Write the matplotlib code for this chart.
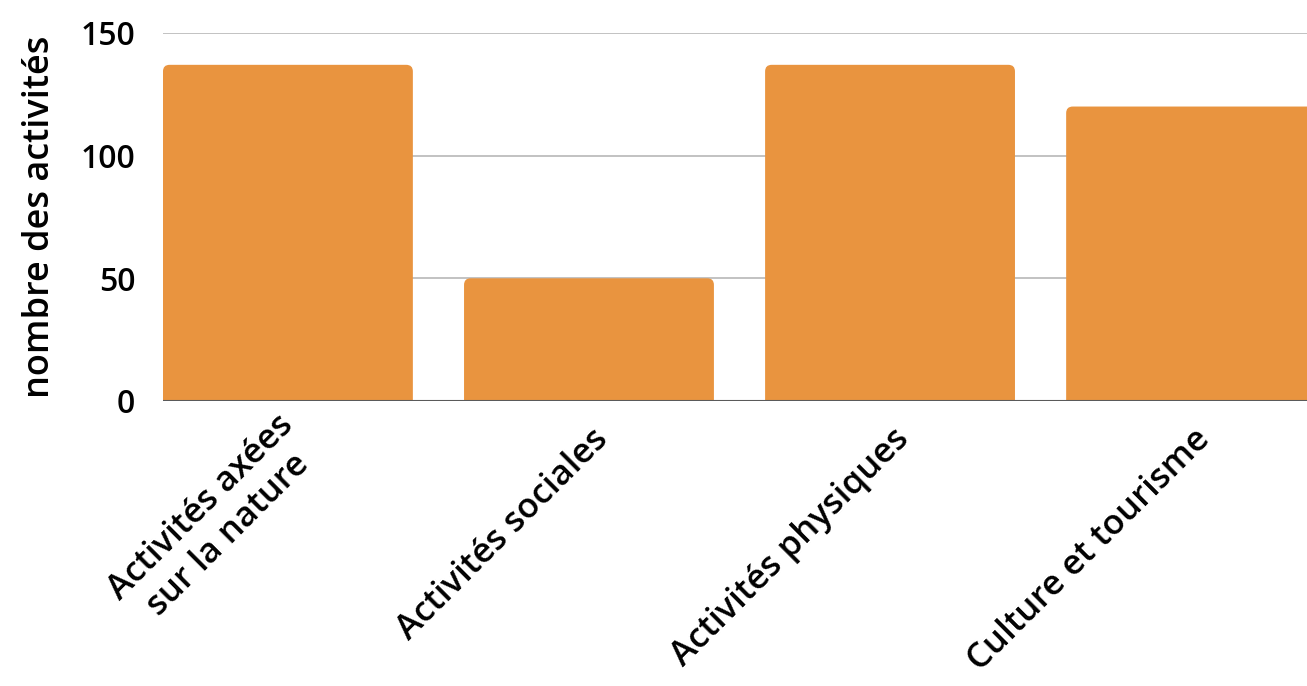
import numpy as np
import matplotlib.pyplot as plt
from matplotlib.patches import FancyBboxPatch
from matplotlib.transforms import ScaledTranslation

# data
categories = ["Activités axées\nsur la nature", "Activités sociales",
              "Activités physiques", "Culture et tourisme"]
values = [137, 50, 137, 120]
y_ticks = [0, 50, 100, 150]

bar_color = "#E9943F"
plt.rcParams['font.family'] = ['Open Sans', 'DejaVu Sans']

fig = plt.figure(figsize=(13.07, 6.86), dpi=100)
ax = fig.add_axes([0.1247, 0.4155, 0.8753, 0.5365])

x = np.arange(len(categories))
bars = ax.bar(x, values, width=0.83, color=bar_color, zorder=2)

# swap plain rectangles for ones with slightly rounded corners
# (start a bit below zero so the lower corners are clipped away)
for b in bars:
    b.set_visible(False)
    rb = FancyBboxPatch((b.get_x(), -5), b.get_width(), b.get_height() + 5,
                        boxstyle="round,pad=0,rounding_size=0.022",
                        mutation_aspect=122, facecolor=bar_color,
                        edgecolor="none", zorder=2)
    ax.add_patch(rb)

ax.set_xlim(-0.415, 3.385)
ax.set_ylim(0, 150)
ax.set_yticks(y_ticks)
ax.yaxis.grid(True, color="#BDBDBD", linewidth=1.3, zorder=0)
ax.axhline(0, color="#5A5A5A", linewidth=1.5, zorder=3)

for s in ax.spines.values():
    s.set_visible(False)

ax.tick_params(axis='y', length=0, pad=20, labelsize=23)
ax.tick_params(axis='x', length=0)
for lbl in ax.get_yticklabels():
    lbl.set_fontweight(600)

ax.set_xticks(x)
ax.set_xticklabels(categories, rotation=45, ha='right', va='center',
                   rotation_mode='anchor', fontsize=25, fontweight=600,
                   multialignment='center')
ax.xaxis.set_tick_params(pad=24)
# nudge the rotated labels a little to the right of the bar centres
shift = ScaledTranslation(14 / 100, 0, fig.dpi_scale_trans)
for lbl in ax.get_xticklabels():
    lbl.set_transform(lbl.get_transform() + shift)

ax.set_ylabel("nombre des activités", fontsize=26, fontweight=600, labelpad=16)

fig.savefig("out.png", dpi=100)
